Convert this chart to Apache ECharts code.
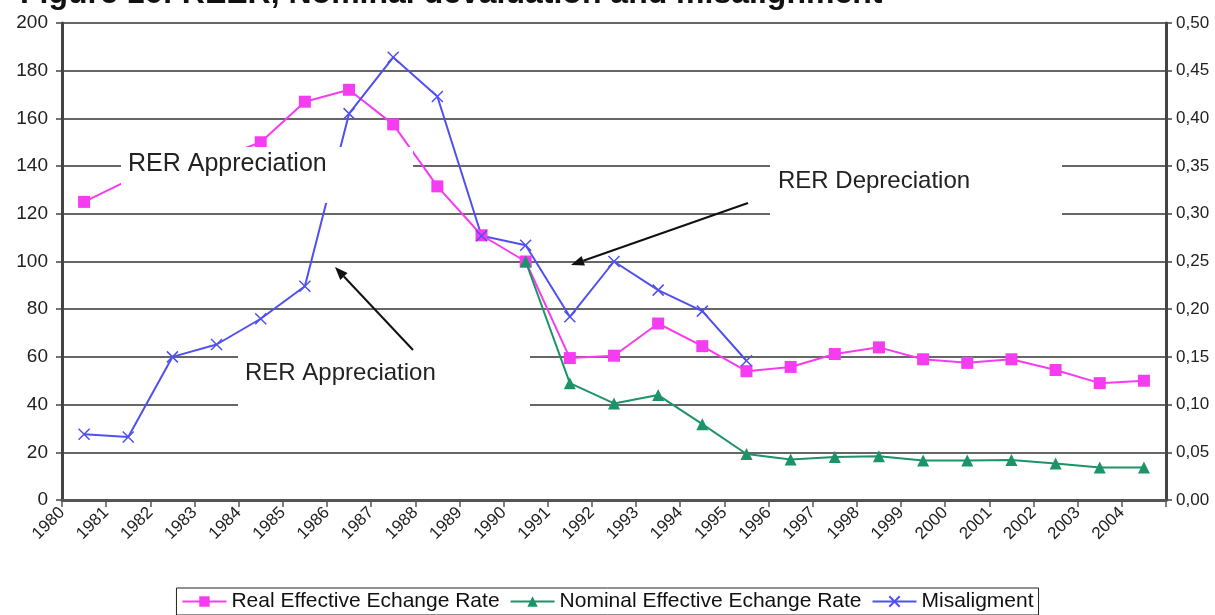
<!DOCTYPE html>
<html>
<head>
<meta charset="utf-8">
<script src="https://cdn.jsdelivr.net/npm/echarts@6/dist/echarts.min.js"></script>
<style>
  html, body { margin: 0; padding: 0; background: #fff; }
  #chart { width: 1215px; height: 615px; }
</style>
</head>
<body>
<div id="chart"></div>
<script>
// years, the point for a year sits in the middle of its band
const years = [1980, 1981, 1982, 1983, 1984, 1985, 1986, 1987, 1988, 1989, 1990, 1991, 1992,
    1993, 1994, 1995, 1996, 1997, 1998, 1999, 2000, 2001, 2002, 2003, 2004];

// left axis
const reer = [125, 134, 138, 143, 150, 167, 172, 157.5, 131.5, 111, 100, 59.5, 60.5,
    74, 64.5, 54, 55.8, 61.2, 64, 59, 57.5, 59, 54.5, 49, 50];
const neer = [null, null, null, null, null, null, null, null, null, null, 100, 49, 40.5,
    44, 31.8, 19.3, 17, 18, 18.3, 16.6, 16.6, 16.8, 15.3, 13.6, 13.6];
// right axis
const misalign = [0.069, 0.066, 0.150, 0.163, 0.190, 0.224, 0.405, 0.464, 0.423, 0.277, 0.267,
    0.192, 0.250, 0.220, 0.198, 0.146];

const seriesNames = ['Real Effective Echange Rate', 'Nominal Effective Echange Rate', 'Misaligment'];

const FONT = 'Arial, "Liberation Sans", sans-serif';
const PINK = '#f53cf0';
const GREEN = '#1d9467';
const BLUE = '#5050f0';

const toPoints = (arr) => years
    .map((y, i) => [y + 0.5, arr[i]])
    .filter(p => p[1] !== null && p[1] !== undefined);

// annotation arrow: line + filled head
const arrow = (x1, y1, x2, y2) => {
    const a = Math.atan2(y2 - y1, x2 - x1);
    const len = 13, hw = 5;
    const bx = x2 - len * Math.cos(a), by = y2 - len * Math.sin(a);
    const px = -Math.sin(a) * hw, py = Math.cos(a) * hw;
    return [
        {
            type: 'line', z: 120, silent: true,
            shape: {x1: x1, y1: y1, x2: bx, y2: by},
            style: {stroke: '#111', lineWidth: 2}
        },
        {
            type: 'polygon', z: 120, silent: true,
            shape: {points: [[x2, y2], [bx + px, by + py], [bx - px, by - py]]},
            style: {fill: '#111'}
        }
    ];
};

// white text boxes covering grid lines, like the original
const note = (x, y, w, h, text, tx, ty, size) => [
    {
        type: 'rect', z: 100, silent: true,
        shape: {x: x, y: y, width: w, height: h},
        style: {fill: '#fff'}
    },
    {
        type: 'text', z: 110, silent: true,
        style: {x: tx, y: ty, text: text, fill: '#222', font: size + 'px ' + FONT, verticalAlign: 'middle'}
    }
];

const chart = echarts.init(document.getElementById('chart'));

const option = {
    animation: false,
    backgroundColor: '#fff',
    textStyle: {fontFamily: FONT},
    grid: {left: 62, right: 49, top: 23, bottom: 115, outerBoundsMode: 'none'},
    legend: {
        data: seriesNames,
        left: 'center',
        top: 588,
        padding: [3, 5],
        itemGap: 10,
        itemWidth: 44,
        itemHeight: 13,
        borderColor: '#222',
        borderWidth: 1,
        textStyle: {fontSize: 21, color: '#111', fontFamily: FONT}
    },
    xAxis: {
        type: 'value',
        min: 1980,
        max: 2005,
        interval: 1,
        splitLine: {show: false},
        axisLine: {lineStyle: {color: '#555', width: 3}},
        axisTick: {length: 7, lineStyle: {color: '#555', width: 1.5}},
        axisLabel: {
            rotate: 45,
            fontSize: 17,
            color: '#222',
            margin: 10,
            formatter: v => (v === 2005 ? '' : String(v))
        }
    },
    yAxis: [
        {
            type: 'value',
            min: 0,
            max: 200,
            interval: 20,
            axisLine: {show: true, lineStyle: {color: '#444', width: 3}},
            axisTick: {show: true, length: 6, lineStyle: {color: '#444', width: 1.5}},
            axisLabel: {fontSize: 19, color: '#222', margin: 14},
            splitLine: {lineStyle: {color: '#666', width: 2}}
        },
        {
            type: 'value',
            min: 0,
            max: 0.5,
            interval: 0.05,
            position: 'right',
            axisLine: {show: true, lineStyle: {color: '#444', width: 3}},
            axisTick: {show: true, length: 6, lineStyle: {color: '#444', width: 1.5}},
            axisLabel: {
                fontSize: 17,
                color: '#222',
                margin: 10,
                formatter: v => v.toFixed(2).replace('.', ',')
            },
            splitLine: {show: false}
        }
    ],
    series: [
        {
            name: seriesNames[0],
            type: 'line',
            yAxisIndex: 0,
            data: toPoints(reer),
            symbol: 'rect',
            symbolSize: 12,
            lineStyle: {color: PINK, width: 2},
            itemStyle: {color: PINK}
        },
        {
            name: seriesNames[1],
            type: 'line',
            yAxisIndex: 0,
            data: toPoints(neer),
            symbol: 'triangle',
            symbolSize: 12,
            lineStyle: {color: GREEN, width: 2},
            itemStyle: {color: GREEN}
        },
        {
            name: seriesNames[2],
            type: 'line',
            yAxisIndex: 1,
            data: toPoints(misalign),
            symbol: 'path://M0,0L10,10M10,0L0,10',
            symbolSize: 11,
            lineStyle: {color: BLUE, width: 2},
            itemStyle: {color: 'none', borderColor: BLUE, borderWidth: 1.5}
        }
    ],
    graphic: [
        {
            type: 'text', z: 110, silent: true,
            style: {
                x: 20, y: 10, verticalAlign: 'bottom',
                text: 'Figure 16: REER, Nominal devaluation and misalignment',
                fill: '#111', font: 'bold 32px ' + FONT
            }
        },
        ...note(121, 147, 292, 56, 'RER Appreciation', 128, 164, 25),
        ...note(770, 143, 292, 80, 'RER Depreciation', 778, 181, 24),
        ...note(238, 333, 292, 80, 'RER Appreciation', 245, 373, 24),
        ...arrow(413, 350, 335, 267),
        ...arrow(748, 203, 571, 265)
    ]
};

chart.setOption(option);
</script>
</body>
</html>
